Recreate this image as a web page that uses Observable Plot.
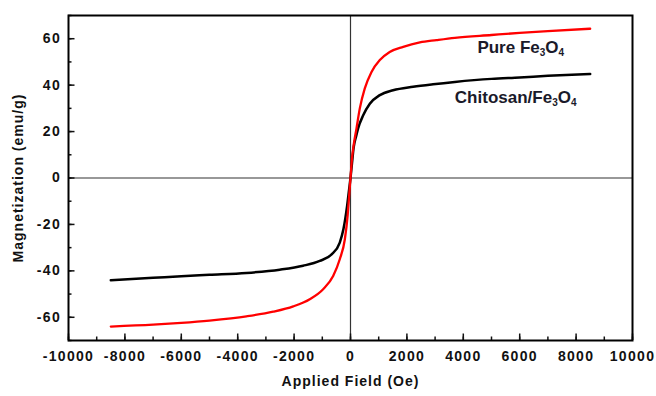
<!DOCTYPE html>
<html>
<head>
<meta charset="utf-8">
<script src="https://cdn.jsdelivr.net/npm/d3@7"></script>
<script src="https://cdn.jsdelivr.net/npm/@observablehq/plot@0.6"></script>
<style>
  body { margin: 0; background: #fff; }
</style>
</head>
<body>
<div id="chart"></div>
<script>
// Magnetization loops (M–H) at room temperature
const fieldPure = [-8500, -7000, -6000, -5000, -3690, -2740, -2030, -1445, -970, -615, -380, -200, -100, -50, 0, 50, 110, 213, 330, 507, 745, 1040, 1390, 1870, 2460, 3050, 3700, 5000, 6000, 7000, 8500];
const magPure   = [-64, -63.2, -62.4, -61.4, -59.6, -57.6, -55.3, -52.2, -47.9, -42.2, -35, -26.4, -16, -8, 0, 8, 14, 21.4, 30, 38.6, 45.7, 50.8, 54.3, 56.5, 58.4, 59.4, 60.4, 61.6, 62.5, 63.3, 64.3];

const fieldChit = [-8500, -7000, -6000, -5000, -3690, -2510, -1680, -1090, -670, -380, -250, -120, -50, 0, 50, 110, 200, 270, 450, 685, 1040, 1510, 2220, 2930, 3700, 5000, 6000, 7000, 8500];
const magChit   = [-44, -43, -42.3, -41.7, -40.9, -39.5, -37.8, -35.7, -32.9, -27.8, -22, -12, -5, 0, 6, 13, 18, 21.4, 27, 32, 35.7, 37.8, 39.3, 40.4, 41.4, 42.7, 43.3, 44, 44.8];

// Series labels placed beside the saturation branches
const labelText  = ["Pure Fe3O4", "Chitosan/Fe3O4"];
const labelField = [4500, 3700];
const labelMag   = [56, 34.5];

const xMajor = d3.range(-10000, 10001, 2000);
const xMinor = d3.range(-10000, 10001, 1000);
const yMajor = d3.range(-60, 61, 20);
const yMinor = d3.range(-70, 71, 10);

const pure = fieldPure.map((h, i) => ({h, m: magPure[i]}));
const chit = fieldChit.map((h, i) => ({h, m: magChit[i]}));
const labels = labelText.map((t, i) => ({t, h: labelField[i], m: labelMag[i]}));

const fmt = d => String(d);

const chart = Plot.plot({
  width: 656,
  height: 396,
  marginLeft: 68,
  marginRight: 24,
  marginTop: 15,
  marginBottom: 56,
  style: {fontFamily: "'Liberation Sans', Arial, sans-serif", fontWeight: "bold", fontSize: "14px", color: "#111", background: "#fff"},
  x: {domain: [-10000, 10000]},
  y: {domain: [-70, 70]},
  marks: [
    Plot.ruleX([0], {stroke: "#333", strokeWidth: 1.2}),
    Plot.ruleY([0], {stroke: "#333", strokeWidth: 1.2}),
    Plot.line(chit, {x: "h", y: "m", stroke: "#000", strokeWidth: 2.5, curve: "monotone-x"}),
    Plot.line(pure, {x: "h", y: "m", stroke: "#ff0000", strokeWidth: 2.3, curve: "monotone-x"}),
    // minor ticks (inward, no labels)
    Plot.axisX(xMinor, {tickSize: -3.5, tickFormat: () => "", strokeWidth: 1.5, label: null}),
    Plot.axisY(yMinor, {tickSize: -3.5, tickFormat: () => "", strokeWidth: 1.5, label: null}),
    // major ticks with labels
    Plot.axisX(xMajor, {tickSize: -6.5, tickPadding: 17, tickFormat: fmt, strokeWidth: 1.5, fontSize: 14, className: "tick-lab",
      label: "Applied Field (Oe)", labelAnchor: "center", labelArrow: "none", labelOffset: 45}),
    Plot.axisY(yMajor, {tickSize: -6.5, tickPadding: 14, tickFormat: fmt, strokeWidth: 1.5, fontSize: 14, className: "tick-lab",
      label: "Magnetization (emu/g)", labelAnchor: "center", labelArrow: "none", labelOffset: 55}),
    Plot.frame({stroke: "#000", strokeWidth: 2}),
    Plot.text(labels, {x: "h", y: "m", text: "t", textAnchor: "start", fontSize: 17, fill: "#1a1a2a", className: "series-label"})
  ]
});

const svg = d3.select(chart);

// Slightly open letter spacing on the axis texts
svg.selectAll("text").each(function() {
  const el = d3.select(this);
  const s = el.text();
  if (/Fe3O4$/.test(s)) return;
  el.attr("letter-spacing", /[A-Za-z]/.test(s) ? "1px" : "1.3px");
});

// Render the 3 and 4 of Fe3O4 as subscripts
svg.selectAll("text").each(function() {
  const el = d3.select(this);
  const s = el.text();
  if (!/Fe3O4$/.test(s)) return;
  const base = s.replace(/Fe3O4$/, "");
  el.text("");
  const parts = [[base + "Fe", false], ["3", true], ["O", false], ["4", true]];
  for (const [p, sub] of parts) {
    const t = el.append("tspan").text(p);
    if (sub) t.attr("font-size", "10px").attr("baseline-shift", "-25%");
  }
});

document.getElementById("chart").appendChild(chart);
</script>
</body>
</html>
